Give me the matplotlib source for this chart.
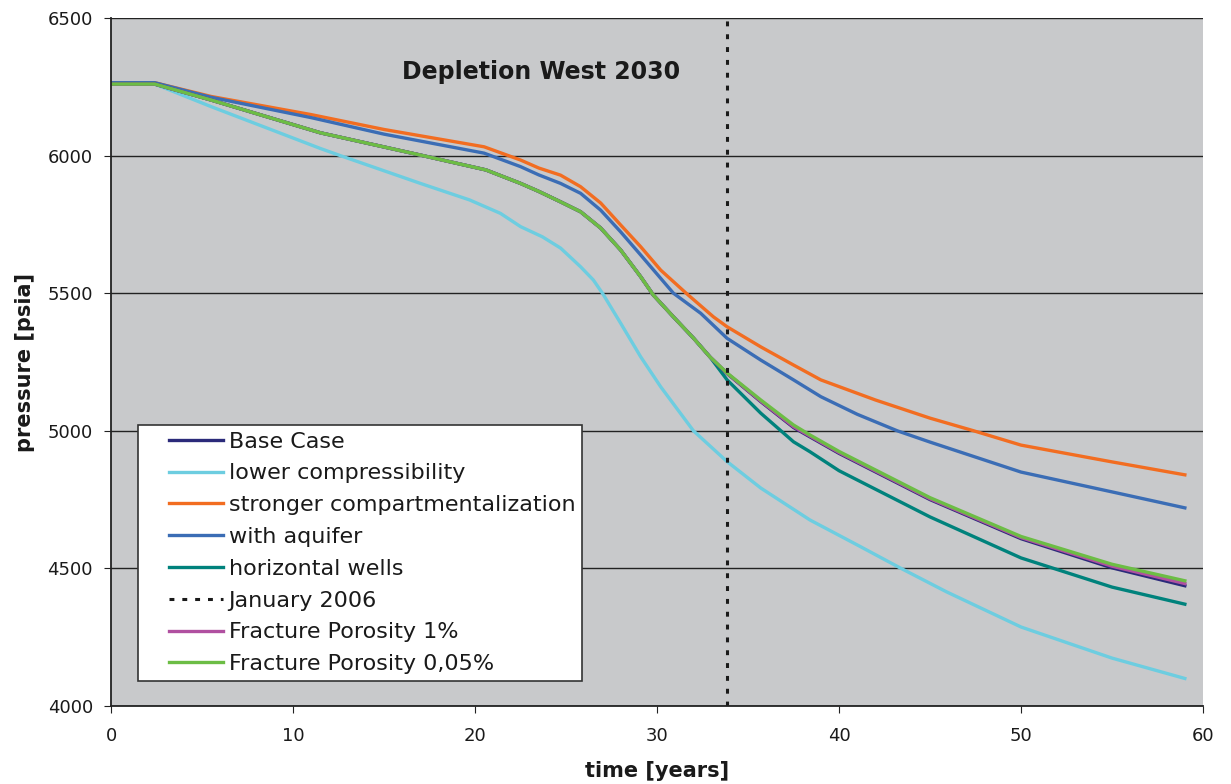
import matplotlib.pyplot as plt
from matplotlib.lines import Line2D
from matplotlib.legend_handler import HandlerLine2D

# time [years] and pressure [psia]
t_common = [0, 2.4, 5.5, 11.5, 17.0, 20.6, 22.5, 23.5, 24.7, 25.8, 26.9, 28.0, 29.1, 29.8, 30.9, 32.0, 32.9]
base_early = [6260, 6260, 6202, 6083, 6002, 5948, 5899, 5870, 5832, 5796, 5737, 5657, 5560, 5493,
              5414, 5337, 5269]

t_late = [33.85, 35.7, 37.5, 38.4, 40, 45, 50, 55, 59]
base_late = [5208, 5106, 5012, 4978, 4918, 4750, 4608, 4502, 4437]
porosity1_late = [5209, 5108, 5015, 4981, 4921, 4753, 4612, 4508, 4445]
porosity005_late = [5210, 5112, 5021, 4985, 4925, 4757, 4616, 4515, 4455]
horiz_late = [5185, 5064, 4960, 4924, 4855, 4687, 4538, 4432, 4370]

t_cyan = [0, 2.4, 5.5, 11.5, 12.6, 17.0, 19.7, 21.4, 22.5, 23.7, 24.7, 25.8, 26.5, 27.0, 28.0, 29.1, 30.2,
          32.0, 33.85, 35.7, 38.4, 41.15, 43.35, 45.9, 50, 55, 59]
lower_comp = [6260, 6260, 6178, 6026, 6000, 5899, 5839, 5790, 5742, 5705, 5664, 5596, 5548, 5500, 5391,
              5269, 5160, 5000, 4888, 4792, 4676, 4580, 4502, 4415, 4287, 4174, 4100]

t_orange = [0, 2.4, 5.5, 11, 15, 20.5, 22.5, 23.5, 24.7, 25.8, 26.9, 28.0, 29.1, 30.2, 31.6, 33.1, 33.85,
            35.7, 37.5, 39.0, 42, 45, 47.4, 50, 55, 59]
stronger = [6265, 6265, 6215, 6149, 6095, 6032, 5984, 5955, 5929, 5887, 5828, 5748, 5669, 5584, 5500, 5414,
            5378, 5305, 5239, 5185, 5112, 5046, 5000, 4948, 4887, 4840]

t_blue = [0, 2.4, 5.5, 11, 15, 20.5, 22.5, 23.5, 24.7, 25.8, 26.9, 28.0, 29.1, 30.9, 32.4, 33.85, 35.7, 37.5,
          39.0, 41, 43.2, 45, 50, 55, 59]
aquifer = [6265, 6265, 6212, 6138, 6078, 6009, 5960, 5930, 5899, 5863, 5802, 5723, 5639, 5500, 5427, 5336,
           5257, 5185, 5124, 5060, 5000, 4959, 4850, 4778, 4720]

t_cases = t_common + t_late
base_case = base_early + base_late
porosity1 = base_early + porosity1_late
porosity005 = base_early + porosity005_late
horizontal = base_early + horiz_late

fig = plt.figure(figsize=(12.31, 7.84), dpi=100)
ax = fig.add_axes([0.0902, 0.0995, 0.8871, 0.8775])
ax.set_facecolor("#c8c9cb")

lw = 2.4
l_cyan, = ax.plot(t_cyan, lower_comp, color="#6dcde0", lw=lw, label="lower compressibility")
l_orange, = ax.plot(t_orange, stronger, color="#f26d21", lw=lw, label="stronger compartmentalization")
l_blue, = ax.plot(t_blue, aquifer, color="#3b6db5", lw=lw, label="with aquifer")
l_teal, = ax.plot(t_cases, horizontal, color="#00827c", lw=lw, label="horizontal wells")
l_base, = ax.plot(t_cases, base_case, color="#2b2a7a", lw=lw, label="Base Case")
l_purple, = ax.plot(t_cases, porosity1, color="#b050a0", lw=lw, label="Fracture Porosity 1%")
l_green, = ax.plot(t_cases, porosity005, color="#6cbd45", lw=lw, label="Fracture Porosity 0,05%")
l_jan = ax.axvline(33.85, color="#1a1a1a", lw=2.2, linestyle=(0, (1.6, 2.6)), label="January 2006")

ax.set_xlim(0, 60)
ax.set_ylim(4000, 6500)
ax.set_xticks(range(0, 61, 10))
ax.set_yticks(range(4000, 6501, 500))
ax.yaxis.grid(True, color="#222222", lw=1.0)
ax.set_axisbelow(True)
for side in ["top", "right"]:
    ax.spines[side].set_visible(False)
for side in ["left", "bottom"]:
    ax.spines[side].set_color("#222222")
    ax.spines[side].set_linewidth(1.3)
ax.tick_params(labelsize=13, length=5, direction="out", color="#222222", labelcolor="#1a1a1a")
ax.tick_params(axis="x", pad=10)
ax.tick_params(axis="y", pad=8)

ax.set_xlabel("time [years]", fontsize=15, fontweight="bold", labelpad=12, color="#1a1a1a")
ax.set_ylabel("pressure [psia]", fontsize=15, fontweight="bold", labelpad=9, color="#1a1a1a")
ax.text(23.6, 6305, "Depletion West 2030", fontsize=17, fontweight="bold", ha="center", va="center",
        color="#1a1a1a")

handles = [l_base, l_cyan, l_orange, l_blue, l_teal, l_jan, l_purple, l_green]
leg = ax.legend(handles=handles, loc="lower left", bbox_to_anchor=(0.025, 0.036), borderaxespad=0,
                fontsize=16, frameon=True, fancybox=False, handlelength=3.51, handletextpad=0.23,
                labelspacing=0.53, borderpad=0.32,
                handler_map={Line2D: HandlerLine2D(xpad=1.08)})
leg.get_frame().set_edgecolor("#333333")
leg.get_frame().set_linewidth(1.2)
leg.get_frame().set_facecolor("white")
leg.get_frame().set_alpha(1)
for txt in leg.get_texts():
    txt.set_color("#1a1a1a")

plt.savefig("out.png", dpi=100)
